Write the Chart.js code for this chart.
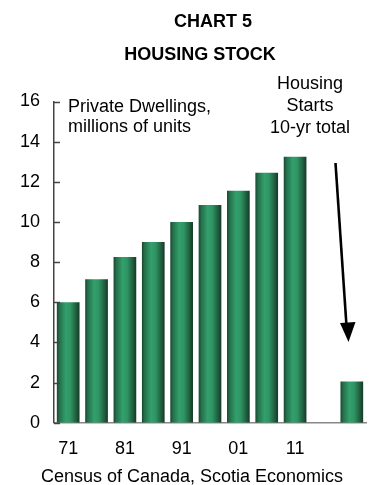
<!DOCTYPE html>
<html>
<head>
<meta charset="utf-8">
<script src="https://cdn.jsdelivr.net/npm/chart.js@4.4.1/dist/chart.umd.min.js"></script>
<style>
  html, body { margin: 0; padding: 0; background: #fff; }
  #wrap { width: 370px; height: 485px; }
</style>
</head>
<body>
<div id="wrap"><canvas id="chart"></canvas></div>
<script>
// census years, last slot is the housing starts bar
const categories = ['71', '76', '81', '86', '91', '96', '01', '06', '11', '', 'starts'];
const tickLabels = ['71', '', '81', '', '91', '', '01', '', '11', '', ''];
// private dwellings, millions of units
const dwellings = [6.0, 7.15, 8.25, 9.0, 10.0, 10.85, 11.55, 12.45, 13.25, null, null];
// housing starts, 10-yr total
const starts = [null, null, null, null, null, null, null, null, null, null, 2.05];

const FONT = 'Liberation Sans, Arial, sans-serif';

// cylinder-like shading across each bar
const barFill = (ctx) => {
    const chart = ctx.chart;
    const xs = chart.scales.x;
    if (!xs || !chart.chartArea) return '#2a8a5a';
    const cx = xs.getPixelForValue(ctx.dataIndex);
    const w = (xs.width / categories.length) * 0.8;
    const g = chart.ctx.createLinearGradient(cx - w / 2, 0, cx + w / 2, 0);
    g.addColorStop(0, '#1a4630');
    g.addColorStop(0.12, '#24704a');
    g.addColorStop(0.4, '#33a06c');
    g.addColorStop(0.6, '#2f9463');
    g.addColorStop(0.85, '#1f5e3e');
    g.addColorStop(1, '#153825');
    return g;
};

const notes = {
    id: 'notes',
    afterDraw(chart) {
        const c = chart.ctx;
        const area = chart.chartArea;
        const ys = chart.scales.y;
        c.save();

        // inward ticks on the value axis
        c.strokeStyle = '#444';
        c.lineWidth = 1.5;
        ys.ticks.forEach(t => {
            const y = Math.round(ys.getPixelForValue(t.value)) + 0.5;
            c.beginPath();
            c.moveTo(area.left, y);
            c.lineTo(area.left + 6, y);
            c.stroke();
        });

        c.fillStyle = '#000';
        c.textAlign = 'center';
        c.textBaseline = 'middle';
        c.font = 'bold 18px ' + FONT;
        c.fillText('CHART 5', 213, 22);
        c.fillText('HOUSING STOCK', 200, 55);

        c.font = '18px ' + FONT;
        c.textAlign = 'left';
        c.fillText('Private Dwellings,', 68, 107);
        c.fillText('millions of units', 68, 127);

        c.textAlign = 'center';
        c.fillText('Housing', 310, 84);
        c.fillText('Starts', 310, 106);
        c.fillText('10-yr total', 310, 128);

        c.fillText('Census of Canada, Scotia Economics', 192, 477);

        // arrow down to the starts bar
        c.strokeStyle = '#000';
        c.lineWidth = 2.6;
        c.beginPath();
        c.moveTo(335.5, 163);
        c.lineTo(346.5, 326);
        c.stroke();
        c.beginPath();
        c.moveTo(340, 323);
        c.lineTo(355.5, 322);
        c.lineTo(348.5, 342);
        c.closePath();
        c.fill();
        c.restore();
    }
};

new Chart(document.getElementById('chart'), {
    type: 'bar',
    data: {
        labels: categories,
        datasets: [
            { label: 'Private Dwellings', data: dwellings, backgroundColor: barFill, grouped: false },
            { label: 'Housing Starts', data: starts, backgroundColor: barFill, grouped: false }
        ]
    },
    options: {
        responsive: true,
        maintainAspectRatio: false,
        animation: false,
        events: [],
        layout: { padding: { top: 101.5, left: 20, right: 4, bottom: 0 } },
        plugins: {
            legend: { display: false },
            tooltip: { enabled: false }
        },
        datasets: {
            bar: { categoryPercentage: 1, barPercentage: 0.8 }
        },
        scales: {
            x: {
                afterFit: (scale) => { scale.height = 62.3; },
                grid: { display: false, drawTicks: false },
                border: { display: true, color: '#888', width: 1.5 },
                ticks: {
                    padding: 16,
                    color: '#000',
                    font: { family: FONT, size: 18 },
                    maxRotation: 0,
                    autoSkip: false,
                    callback: (v, i) => tickLabels[i]
                }
            },
            y: {
                min: 0,
                max: 16,
                afterFit: (scale) => { scale.width = 34; },
                grid: { display: false, drawTicks: false },
                border: { display: true, color: '#444', width: 1.5 },
                ticks: {
                    stepSize: 2,
                    padding: 14,
                    color: '#000',
                    font: { family: FONT, size: 18 }
                }
            }
        }
    },
    plugins: [notes]
});
</script>
</body>
</html>
